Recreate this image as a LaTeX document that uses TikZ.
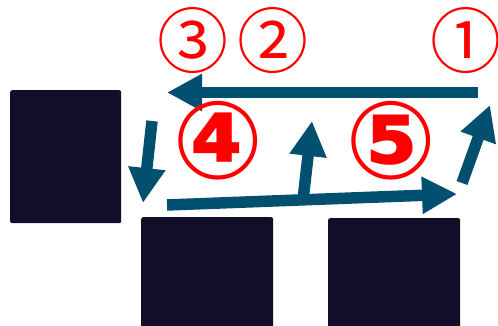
\documentclass[tikz,border=0pt]{standalone}
\usepackage{fontspec}
\usetikzlibrary{arrows.meta}
\newfontfamily\circserif{Noto Sans CJK JP}
\newfontfamily\circsans{DejaVu Sans}
\definecolor{boxnavy}{HTML}{110E2A}
\definecolor{arrowblue}{HTML}{02506F}
\definecolor{markred}{HTML}{FF0000}
\tikzset{
  darkbox/.style={fill=boxnavy, draw=none, rounded corners=2pt, inner sep=0pt, anchor=north west},
  flowarrow/.style={draw=arrowblue, line width=11.5pt, -{Triangle[length=35pt,width=35pt]}},
  serifmark/.style={text=markred, font=\circserif\fontsize{71}{71}\selectfont, inner sep=0pt},
  sansmark/.style={text=markred, font=\circsans\bfseries\fontsize{108}{108}\selectfont, inner sep=0pt},
}
\begin{document}
\begin{tikzpicture}[x=1pt,y=-1pt]
\useasboundingbox (0,0) rectangle (498,326);
\node[darkbox, minimum width=111pt, minimum height=133pt] (boxleft) at (10,90) {};
\node[darkbox, minimum width=132pt, minimum height=115pt] (boxmid) at (141,217) {};
\node[darkbox, minimum width=132pt, minimum height=115pt] (boxright) at (328,218) {};
\coordinate (topstart) at (478,92.5);
\coordinate (topend) at (167,92.5);
\coordinate (downstart) at (152,121);
\coordinate (downend) at (143,203);
\coordinate (longstart) at (167,205);
\coordinate (longend) at (457,194);
\coordinate (branchstart) at (303,200);
\coordinate (branchend) at (312,121);
\coordinate (diagstart) at (462,183);
\coordinate (diagend) at (490,105);
\draw[flowarrow] (topstart) -- (topend);
\draw[flowarrow] (downstart) -- (downend);
\draw[flowarrow] (longstart) -- (longend);
\draw[flowarrow] (branchstart) -- (branchend);
\draw[flowarrow] (diagstart) -- (diagend);
\node[serifmark] (m1) at (466,41) {①};
\node[serifmark] (m2) at (273,41) {②};
\node[serifmark] (m3) at (193,41) {③};
\node[sansmark] (m4) at (218,141) {④};
\node[sansmark] (m5) at (391,141) {⑤};
\end{tikzpicture}
\end{document}
